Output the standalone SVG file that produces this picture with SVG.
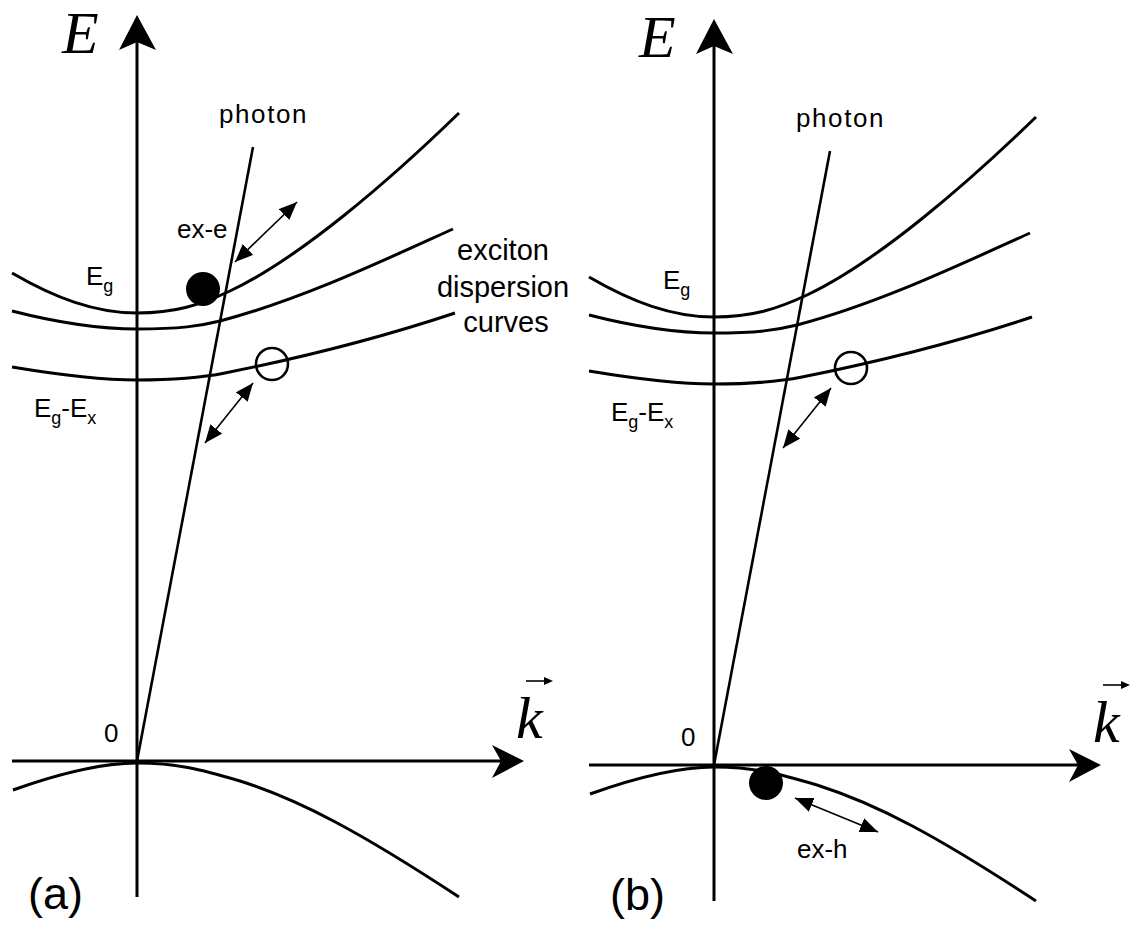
<svg xmlns="http://www.w3.org/2000/svg" width="1134" height="925" viewBox="0 0 1134 925">
<style>
.ax{fill:none;stroke:#000;stroke-width:3}
.cv{fill:none;stroke:#000;stroke-width:3}
.ph{fill:none;stroke:#000;stroke-width:2.6}
.ar{fill:none;stroke:#000;stroke-width:1.6;marker-start:url(#hd);marker-end:url(#hd)}
.hd{fill:#000}
.lb{font-family:"Liberation Sans",Arial,sans-serif;font-size:26px;fill:#000}
.sb{font-size:18px}
.bg{font-family:"Liberation Serif","Times New Roman",serif;font-style:italic;font-size:60px;fill:#000}
.pl{font-family:"Liberation Sans",Arial,sans-serif;font-size:45px;fill:#000}
.ex{font-family:"Liberation Sans",Arial,sans-serif;font-size:29px;fill:#000;text-anchor:middle}
</style>
<defs>
<marker id="hd" markerUnits="userSpaceOnUse" markerWidth="20" markerHeight="16" refX="18" refY="7.5" orient="auto-start-reverse" viewBox="0 0 20 16">
<path d="M0,0 L18,7.5 L0,15 Z" fill="#000"/>
</marker>
<g id="axes">
<path class="ax" d="M137,897 V30"/>
<path class="hd" d="M137,15 L156,50 L137,42 L119,50 Z"/>
<path class="ax" d="M12,761 H505"/>
<path class="hd" d="M524,761 L492,778 L501,761 L492,745 Z"/>
<text class="bg" x="62" y="53">E</text>
<text class="bg" x="516" y="738">k</text>
<path d="M526,681 H546" stroke="#000" stroke-width="1.6"/>
<path class="hd" d="M553,681 L544,677 L544,685 Z"/>
<text class="lb" x="104" y="742">0</text>
</g>
<g id="bands">
<path class="ph" d="M137,761 L253,147"/>
<path class="cv" d="M12,273 C55,298 95,313 137,313 C175,313 200,305 230,291 C300,258 390,180 459,113"/>
<path class="cv" d="M12,311 C55,322 95,329 137,329 C180,329 200,326 220,321 C300,300 380,262 453,229"/>
<path class="cv" d="M12,367 C60,375 100,380 137,380 C175,380 200,378 225,373 C300,358 380,338 455,313"/>
<path class="cv" d="M13,790 C55,775 100,763 137,763 C175,763 200,769 240,781 C300,800 360,832 459,897"/>
<text class="lb" x="219" y="123" letter-spacing="1.6">photon</text>
<text class="lb" x="86" y="285">E<tspan class="sb" dy="7">g</tspan></text>
<text class="lb" x="34" y="417">E<tspan class="sb" dy="7">g</tspan><tspan dy="-7">-E</tspan><tspan class="sb" dy="7">x</tspan></text>
</g>
</defs>
<g id="panel-a">
<use href="#axes"/>
<use href="#bands"/>
<circle cx="203" cy="289" r="17" fill="#000"/>
<circle cx="272" cy="364" r="16" fill="none" stroke="#000" stroke-width="2.6"/>
<path class="ar" d="M235,262 L297,202"/>
<path class="ar" d="M205,443 L253,383"/>
<text class="lb" x="177" y="238">ex-e</text>
<text class="ex" x="503" y="260">exciton</text>
<text class="ex" x="503" y="297">dispersion</text>
<text class="ex" x="506" y="332">curves</text>
<text class="pl" x="28" y="909">(a)</text>
</g>
<g id="panel-b" transform="translate(577,4)">
<use href="#axes"/>
<use href="#bands"/>
<circle cx="274" cy="364" r="16" fill="none" stroke="#000" stroke-width="2.6"/>
<path class="ar" d="M206,444 L254,384"/>
<circle cx="189" cy="779" r="17" fill="#000"/>
<path class="ar" d="M218,794 L301,828"/>
<text class="lb" x="220" y="854">ex-h</text>
<text class="pl" x="33" y="906">(b)</text>
</g>
</svg>
